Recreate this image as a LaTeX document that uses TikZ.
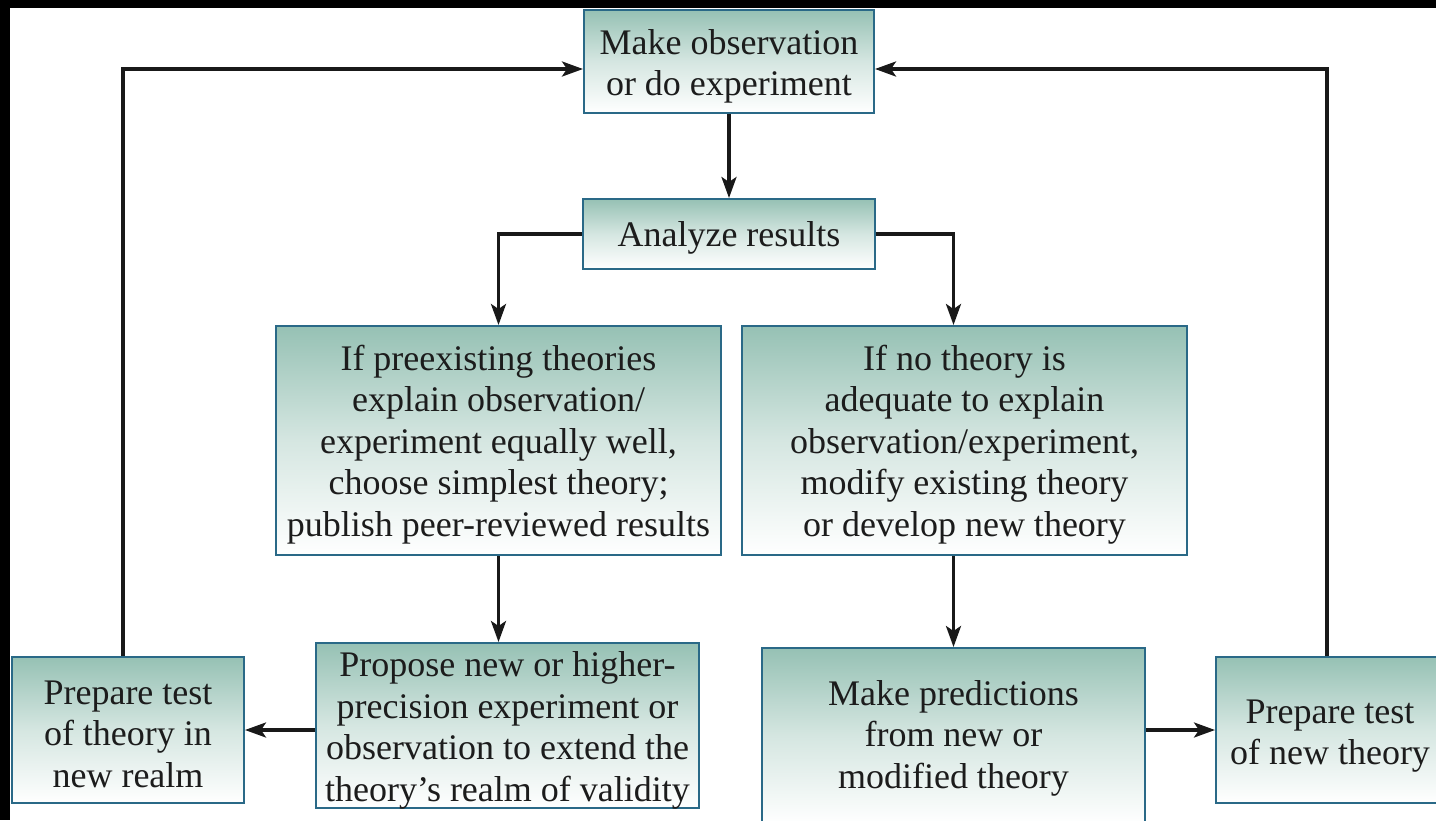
\documentclass[tikz,border=0pt]{standalone}
\usepackage{fontspec}
\setmainfont{Liberation Serif}
\usetikzlibrary{arrows.meta,calc}
\definecolor{boxtop}{RGB}{150,193,180}
\definecolor{boxline}{RGB}{42,105,135}
\definecolor{txt}{RGB}{28,28,28}
\tikzset{
  flowbox/.style={draw=boxline, line width=2pt, top color=boxtop, bottom color=white,
    middle color=boxtop!40!white, inner sep=0pt},
  boxtext/.style={align=center, inner sep=0pt, text=txt,
    font={\fontsize{36}{41.5}\selectfont}},
  conn/.style={line width=3.3pt, draw=black!90, -{Stealth[length=21pt,width=15pt,inset=5pt]}},
}
\begin{document}
\begin{tikzpicture}[x=1pt,y=-1pt]
\useasboundingbox (0,0) rectangle (1436,820);
\clip (0,0) rectangle (1436,820);
\fill[white] (0,0) rectangle (1436,820);
% boxes
\node[flowbox, minimum width=290pt, minimum height=103pt] (obs) at (729,61.5) {};
\node[flowbox, minimum width=292pt, minimum height=70pt] (an) at (729,234) {};
\node[flowbox, minimum width=445pt, minimum height=229pt] (lb) at (498.5,440.5) {};
\node[flowbox, minimum width=445pt, minimum height=229pt] (rb) at (964.5,440.5) {};
\node[flowbox, minimum width=232pt, minimum height=146pt] (pl) at (128,730) {};
\node[flowbox, minimum width=383pt, minimum height=165pt] (pr) at (507.5,725.5) {};
\node[flowbox, minimum width=383pt, minimum height=176pt] (pd) at (953.5,736) {};
\node[flowbox, minimum width=228pt, minimum height=146pt] (prr) at (1330,730) {};
% texts
\node[boxtext] (tobs) at ([yshift=-5pt]obs.center) {Make observation\\or do experiment};
\node[boxtext] (tan) at ([yshift=-4pt]an.center) {Analyze results};
\node[boxtext] (tlb) at ([yshift=-4pt]lb.center) {If preexisting theories\\explain observation/\\experiment equally well,\\choose simplest theory;\\publish peer-reviewed results};
\node[boxtext] (trb) at ([yshift=-4pt]rb.center) {If no theory is\\adequate to explain\\observation/experiment,\\modify existing theory\\or develop new theory};
\node[boxtext] (tpl) at ([yshift=-4pt]pl.center) {Prepare test\\of theory in\\new realm};
\node[boxtext] (tpr) at ([yshift=-5pt]pr.center) {Propose new or higher-\\precision experiment or\\observation to extend the\\theory’s realm of validity};
\node[boxtext] (tpd) at ([yshift=-2pt]pd.center) {Make predictions\\from new or\\modified theory};
\node[boxtext] (tprr) at ([yshift=-6pt]prr.center) {Prepare test\\of new theory};
% black frame bands
\fill[black] (0,0) rectangle (1436,7.5);
\fill[black] (0,0) rectangle (10,820);
% connectors
\coordinate (lt) at (123,69);
\coordinate (rt) at (1327,69);
\draw[conn] ([xshift=-5pt]pl.north) -- (lt) -- (lt -| obs.west);
\draw[conn] ([xshift=-3pt]prr.north) -- (rt) -- (rt -| obs.east);
\draw[conn] (obs.south) -- (an.north);
\draw[conn] (an.west) -| (lb.north);
\draw[conn] (an.east) -| (rb.north -| pd.north);
\draw[conn] (lb.south) -- (lb.south |- pr.north);
\draw[conn] (rb.south -| pd.north) -- (pd.north);
\draw[conn] (pr.west |- pl.east) -- (pl.east);
\draw[conn] (pd.east |- prr.west) -- (prr.west);
\end{tikzpicture}
\end{document}
